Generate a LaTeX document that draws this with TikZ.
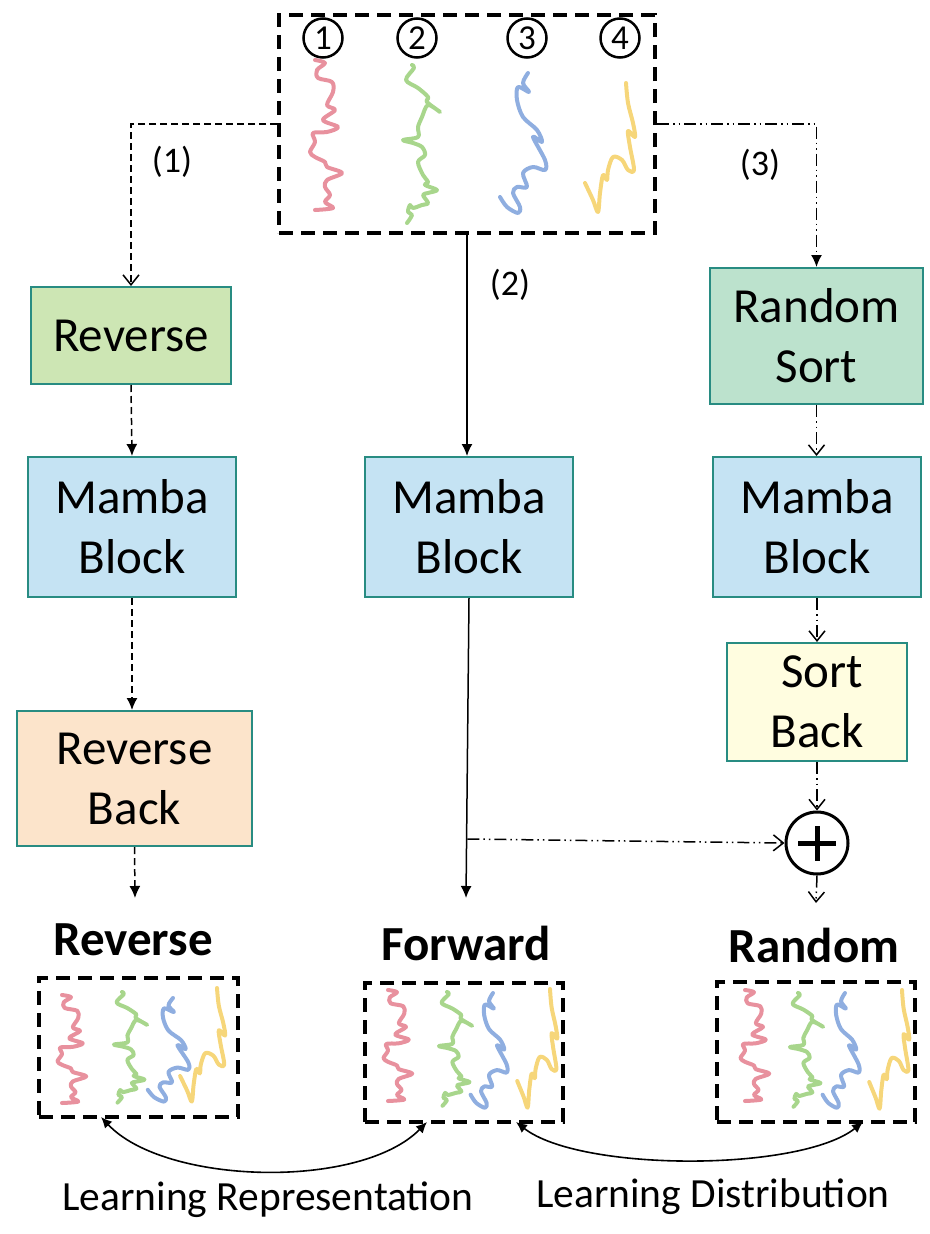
\documentclass[tikz,border=0pt]{standalone}
\usepackage{fontspec}
\setmainfont{Carlito}
\usetikzlibrary{arrows.meta}
\definecolor{tealb}{RGB}{40,140,130}
\definecolor{fgreen}{RGB}{205,230,180}
\definecolor{fblue}{RGB}{197,227,243}
\definecolor{fpeach}{RGB}{252,228,203}
\definecolor{fmint}{RGB}{188,226,205}
\definecolor{fyellow}{RGB}{255,253,224}
\definecolor{spink}{RGB}{232,145,158}
\definecolor{sgreen}{RGB}{168,214,140}
\definecolor{sblue}{RGB}{143,174,224}
\definecolor{syellow}{RGB}{246,214,122}
\tikzset{sq/.style={line width=4pt, line cap=round, line join=round}}
\newcommand\sqpink[4]{\draw[sq,spink,shift={(#1,#2)},xscale=#3,yscale=#4] plot[smooth,tension=0.55] coordinates{(0,0) (10,3) (2,10) (3,18) (17,22) (18,32) (12,45) (20,50) (8,60) (23,67) (12,72) (-2,73) (0,82) (-5,92) (0,97) (10,102) (12,107) (27,113) (12,120) (10,127) (15,135) (10,142) (18,148) (0,150)};}
\newcommand\sqgreen[4]{\draw[sq,sgreen,shift={(#1,#2)},xscale=#3,yscale=#4] plot[smooth,tension=0.55] coordinates{(0,0) (2,3) (-6,15) (6,23) (16,32) (15,37) (28,47) (16,40) (10,52) (6,62) (6,72) (-9,75) (1,78) (10,82) (13,90) (6,97) (11,110) (16,117) (13,120) (25,125) (16,128) (11,130) (16,138) (10,140) (1,143) (-2,140) (-4,147) (0,150) (-5,158)};}
\newcommand\sqblue[4]{\draw[sq,sblue,shift={(#1,#2)},xscale=#3,yscale=#4] plot[smooth,tension=0.55] coordinates{(0,0) (-5,10) (1,19) (-10,14) (-11,27) (-5,44) (9,57) (14,69) (5,64) (17,87) (17,97) (5,94) (-5,100) (-1,114) (-11,114) (-15,120) (-8,134) (-10,140) (-21,134) (-28,124)};}
\newcommand\sqyellow[4]{\draw[sq,syellow,shift={(#1,#2)},xscale=#3,yscale=#4] plot[smooth,tension=0.55] coordinates{(0,0) (2,20) (7,40) (9,54) (2,48) (4,64) (8,87) (2,87) (-4,77) (-13,74) (-18,87) (-19,97) (-23,92) (-26,110) (-28,129) (-33,117) (-41,100)};}
\begin{document}
\begin{tikzpicture}[x=1pt,y=-1pt,
  box/.style={draw=tealb, line width=2pt, inner sep=0pt, align=center, font=\fontsize{49}{60}\selectfont},
  dbox/.style={draw, line width=4pt, dash pattern=on 14pt off 8pt, inner sep=0pt},
  conn/.style={line width=1.5pt},
  dline/.style={conn, dash pattern=on 7pt off 4pt},
  ddline/.style={conn, dash pattern=on 12pt off 4pt on 1.5pt off 4pt on 1.5pt off 4pt},
  opentip/.style={-{Straight Barb[length=10pt,width=16pt]}},
  filltip/.style={-{Latex[length=12pt,width=11pt]}},
  num/.style={circle, draw, line width=2.5pt, minimum size=39pt, inner sep=0pt, font=\fontsize{35}{35}\selectfont},
  lab/.style={font=\fontsize{36}{40}\selectfont},
  ttl/.style={font=\fontsize{49}{52}\selectfont\bfseries},
  captxt/.style={font=\fontsize{41.5}{46}\selectfont}
]
\useasboundingbox (0,0) rectangle (929,1234);

% top input box
\node[dbox, minimum width=376pt, minimum height=218pt] (top) at (467,124) {};
\node[num] (c1) at (323,38) {1};
\node[num] (c2) at (417,38) {2};
\node[num] (c3) at (527,38) {3};
\node[num] (c4) at (620,38) {4};
\sqpink{315}{60}{1}{1}
\sqgreen{412}{65}{1}{1}
\sqblue{528}{73}{1}{1}
\sqyellow{626}{83}{1}{1}

% boxes
\node[box, fill=fgreen, minimum width=200pt, minimum height=97pt] (rev) at (131,335.5) {Reverse};
\node[box, fill=fblue, minimum width=208pt, minimum height=140pt] (mleft) at (132,527) {Mamba\\Block};
\node[box, fill=fpeach, minimum width=235pt, minimum height=135pt] (rback) at (134.5,778.5) {Reverse\\Back};
\node[box, fill=fblue, minimum width=208pt, minimum height=140pt] (mmid) at (469,527) {Mamba\\Block};
\node[box, fill=fmint, minimum width=213pt, minimum height=136pt] (rsort) at (816.5,336) {Random\\Sort};
\node[box, fill=fblue, minimum width=208pt, minimum height=140pt] (mright) at (817,527) {Mamba\\Block};
\node[box, fill=fyellow, minimum width=180pt, minimum height=118pt] (sback) at (817,702) {\hspace*{10pt}Sort\\Back};
\node[circle, draw, line width=3pt, minimum size=62pt, inner sep=0pt] (plus) at (817,843) {};
\draw[line width=5pt] ([xshift=-19pt]plus.center) -- ([xshift=19pt]plus.center);
\draw[line width=5pt] ([yshift=17pt]plus.center) -- ([yshift=-18pt]plus.center);

% labels
\node[lab] (l1) at (172,162) {(1)};
\node[lab] (l2) at (510,285) {(2)};
\node[lab] (l3) at (760,165) {(3)};

% connectors
\draw[dline, opentip] (top.west) -| (rev.north);
\draw[dline, filltip] (rev.south) -- (mleft.north);
\draw[dline, filltip] (mleft.south) -- (mleft.south |- rback.north);
\coordinate (revend) at (135,898);
\draw[dline, filltip] (rback.south) -- (revend);

\draw[conn, filltip] (top.south) -- (top.south |- mmid.north);
\coordinate (fwdend) at (466,898);
\draw[conn, filltip] (mmid.south) -- (fwdend);
\coordinate (br) at (467.3,839);
\draw[ddline, opentip] (br) -- (plus.west);

\draw[ddline, filltip] (top.east) -| (rsort.north);
\draw[ddline, opentip] (rsort.south) -- (rsort.south |- mright.north);
\draw[ddline, opentip] (mright.south) -- (sback.north);
\draw[ddline, opentip] (sback.south) -- (plus.north);
\coordinate (rndend) at (816,903);
\draw[ddline, opentip] (plus.south) -- (rndend);

% titles
\node[ttl] (trev) at (133,940) {Reverse};
\node[ttl] (tfwd) at (466,943) {Forward};
\node[ttl] (trnd) at (814,945) {Random};

% result boxes
\node[dbox, minimum width=199pt, minimum height=139pt] (rbox) at (138.5,1047.5) {};
\node[dbox, minimum width=198pt, minimum height=139pt] (fbox) at (464,1052.5) {};
\node[dbox, minimum width=198pt, minimum height=140pt] (dbx) at (816,1052) {};

% reverse squiggles
\sqpink{62}{995}{0.9}{0.72}
\sqgreen{122}{992}{0.9}{0.7}
\sqblue{173}{998}{0.9}{0.74}
\sqyellow{217}{988}{0.9}{0.88}
% forward squiggles
\sqpink{388}{990}{0.9}{0.74}
\sqgreen{447}{992}{0.9}{0.72}
\sqblue{493}{993}{0.8}{0.82}
\sqyellow{550}{989}{0.8}{0.92}
% random squiggles
\sqpink{745}{990}{0.9}{0.74}
\sqgreen{798}{993}{0.9}{0.72}
\sqblue{845}{993}{0.8}{0.82}
\sqyellow{902}{990}{0.8}{0.92}

% bottom relations
\draw[conn, line width=1.6pt, {Latex[length=11pt,width=10pt]}-{Latex[length=11pt,width=10pt]}]
  ([xshift=-37.5pt,yshift=2pt]rbox.south) .. controls (165,1185) and (360,1190) .. ([xshift=-37pt,yshift=2pt]fbox.south);
\draw[conn, line width=1.6pt, {Latex[length=11pt,width=10pt]}-{Latex[length=11pt,width=10pt]}]
  ([xshift=52pt,yshift=2pt]fbox.south) .. controls (580,1172) and (800,1172) .. ([xshift=47pt,yshift=2pt]dbx.south);
\node[captxt] (lrep) at (268,1200) {Learning Representation};
\node[captxt] (ldis) at (713,1197) {Learning Distribution};
\end{tikzpicture}
\end{document}
